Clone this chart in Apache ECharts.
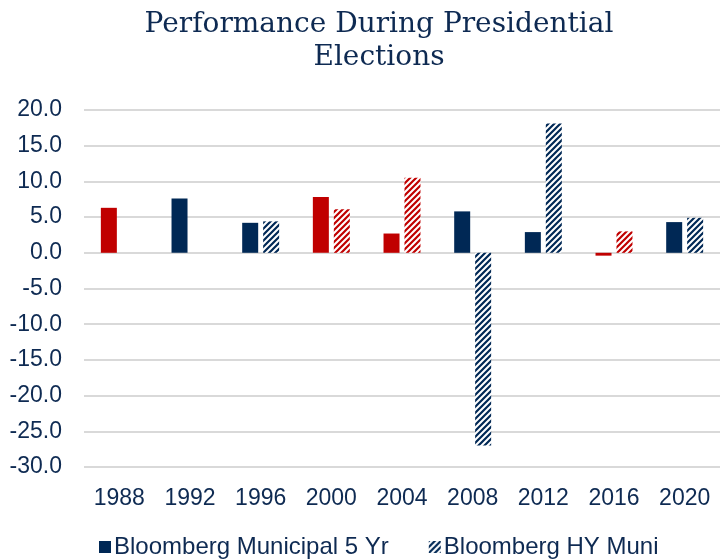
<!DOCTYPE html>
<html>
<head>
<meta charset="utf-8">
<script src="https://cdn.jsdelivr.net/npm/echarts@6/dist/echarts.min.js"></script>
<style>
  html, body { margin: 0; padding: 0; background: #fff; }
  #chart { width: 720px; height: 559px; }
</style>
</head>
<body>
<div id="chart"></div>
<script>
// election years and which party won (R = red, D = navy)
const years = ['1988', '1992', '1996', '2000', '2004', '2008', '2012', '2016', '2020'];
const winner = ['R', 'D', 'D', 'R', 'R', 'D', 'D', 'R', 'D'];
// returns (%)
const muni5yr = [6.3, 7.6, 4.2, 7.8, 2.7, 5.8, 2.9, -0.4, 4.3];
const hyMuni = [null, null, 4.4, 6.1, 10.5, -27.0, 18.1, 3.0, 4.9];

const RED = '#C00000';
const NAVY = '#002855';
const TEXT = '#0E2A52';

// diagonal stripe pattern for the HY series
function hatch(color) {
  const c = document.createElement('canvas');
  c.width = 6; c.height = 6;
  const ctx = c.getContext('2d');
  ctx.fillStyle = '#fff';
  ctx.fillRect(0, 0, 6, 6);
  ctx.strokeStyle = color;
  ctx.lineWidth = 2.2;
  ctx.beginPath();
  ctx.moveTo(-1, 7); ctx.lineTo(7, -1);
  ctx.moveTo(-4, 4); ctx.lineTo(4, -4);
  ctx.moveTo(2, 10); ctx.lineTo(10, 2);
  ctx.stroke();
  return { image: c, repeat: 'repeat' };
}
const hatchRed = hatch(RED);
const hatchNavy = hatch(NAVY);

const chart = echarts.init(document.getElementById('chart'));
chart.setOption({
  animation: false,
  title: {
    text: 'Performance During Presidential\nElections',
    left: 374,
    textAlign: 'center',
    top: 3,
    textStyle: {
      fontFamily: 'DejaVu Serif',
      fontWeight: 'normal',
      fontSize: 28,
      lineHeight: 33,
      color: TEXT
    }
  },
  legend: {
    bottom: -5,
    left: 94,
    itemWidth: 12,
    itemHeight: 12,
    itemGap: 40,
    icon: 'rect',
    textStyle: { fontFamily: 'Liberation Sans', fontSize: 24, color: TEXT, padding: [0, 0, 0, -2] },
    data: ['Bloomberg Municipal 5 Yr', 'Bloomberg HY Muni']
  },
  grid: { left: 84, right: -3, top: 110, bottom: 92 },
  xAxis: {
    type: 'category',
    data: years,
    axisLine: { show: false, onZero: false },
    axisTick: { show: false },
    axisLabel: { fontFamily: 'Liberation Sans', fontSize: 23, color: TEXT, margin: 20 }
  },
  yAxis: {
    type: 'value',
    min: -30,
    max: 20,
    interval: 5,
    axisLine: { show: false },
    axisTick: { show: false },
    axisLabel: {
      fontFamily: 'Liberation Sans', fontSize: 23, color: TEXT, margin: 22,
      formatter: v => v.toFixed(1)
    },
    splitLine: { lineStyle: { color: '#D9D9D9', width: 2 } }
  },
  series: [
    {
      name: 'Bloomberg Municipal 5 Yr',
      type: 'bar',
      barWidth: 16,
      barGap: '31%',
      itemStyle: { color: NAVY },
      data: muni5yr.map((v, i) => ({
        value: v,
        itemStyle: { color: winner[i] === 'R' ? RED : NAVY }
      }))
    },
    {
      name: 'Bloomberg HY Muni',
      type: 'bar',
      barWidth: 16,
      itemStyle: { color: hatchNavy },
      data: hyMuni.map((v, i) => ({
        value: v,
        itemStyle: { color: winner[i] === 'R' ? hatchRed : hatchNavy }
      }))
    }
  ]
});
</script>
</body>
</html>
